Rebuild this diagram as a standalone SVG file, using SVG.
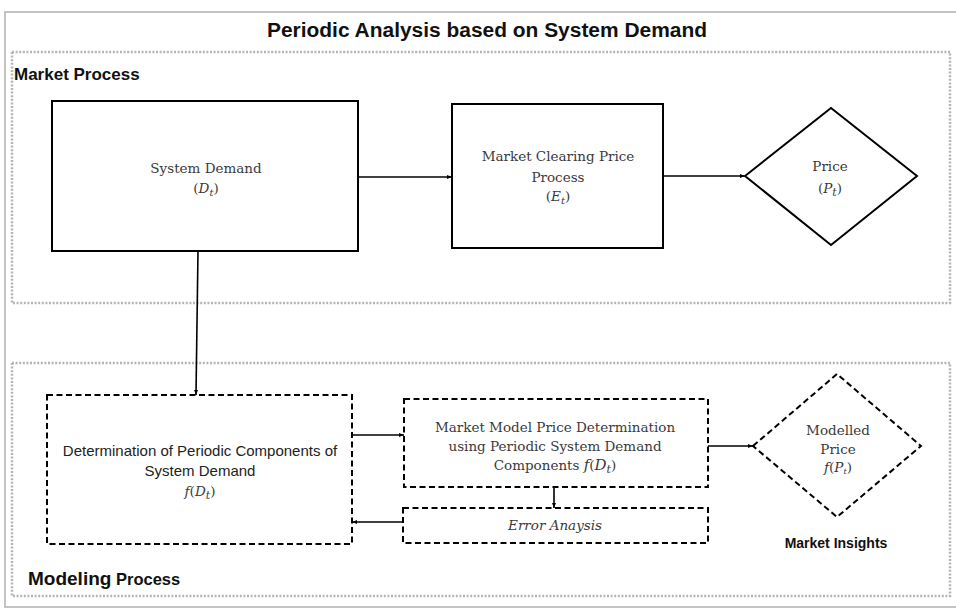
<svg xmlns="http://www.w3.org/2000/svg" width="956" height="609" viewBox="0 0 956 609">
  <defs>
    <marker id="arrow" viewBox="0 0 10 10" refX="10" refY="5" markerWidth="5" markerHeight="5" orient="auto" markerUnits="userSpaceOnUse">
      <path d="M0,1 L10,5 L0,9 z" fill="#000"/>
    </marker>
    <style>
      .frame { fill: none; stroke: #c4c4c4; stroke-width: 2; }
      .region { fill: none; stroke: #b5b5b5; stroke-width: 2.5; stroke-dasharray: 2 1.6; }
      .solid { fill: #fff; stroke: #000; stroke-width: 2; }
      .dashed { fill: #fff; stroke: #000; stroke-width: 2; stroke-dasharray: 6 3.5; }
      .conn { fill: none; stroke: #000; stroke-width: 1.6; marker-end: url(#arrow); }
      .head { font-family: "Liberation Sans", Arial, sans-serif; font-weight: bold; fill: #111; }
      .serif { font-family: "DejaVu Serif", "Liberation Serif", serif; font-size: 13.5px; fill: #3a3a3a; text-anchor: middle; }
      .sans { font-family: "Liberation Sans", Arial, sans-serif; font-size: 15px; fill: #222; text-anchor: middle; }
      .math { font-family: "DejaVu Serif", "Liberation Serif", serif; font-style: italic; }
    </style>
  </defs>

  <!-- outer frame and title -->
  <rect class="frame" x="5" y="12" width="960" height="595"/>
  <text class="head" x="487" y="37" font-size="20" text-anchor="middle" textLength="440" lengthAdjust="spacingAndGlyphs">Periodic Analysis based on System Demand</text>

  <!-- process regions -->
  <g id="market-process">
    <rect class="region" x="12" y="52" width="938" height="251"/>
    <text class="head" x="14" y="80" font-size="17">Market Process</text>
  </g>
  <g id="modeling-process">
    <rect class="region" x="12" y="363" width="938" height="233"/>
    <text class="head" x="28" y="585"><tspan font-size="19">Modeling</tspan><tspan font-size="16.5"> Process</tspan></text>
  </g>

  <!-- market nodes -->
  <g id="system-demand">
    <rect class="solid" x="52" y="101" width="306" height="150"/>
    <text class="serif" x="206" y="173" font-size="14">System Demand</text>
    <text class="serif" x="206" y="193" font-size="14">(<tspan class="math">D</tspan><tspan class="math" font-size="10" dy="3">t</tspan><tspan dy="-3">)</tspan></text>
  </g>
  <g id="market-clearing">
    <rect class="solid" x="452" y="104" width="211" height="144"/>
    <text class="serif" x="558" y="161" font-size="14">Market Clearing Price</text>
    <text class="serif" x="558" y="182" font-size="14">Process</text>
    <text class="serif" x="558" y="201" font-size="14">(<tspan class="math">E</tspan><tspan class="math" font-size="10" dy="3">t</tspan><tspan dy="-3">)</tspan></text>
  </g>
  <g id="price">
    <polygon class="solid" points="745,176 831,108 917,176 831,245"/>
    <text class="serif" x="830" y="171" font-size="14">Price</text>
    <text class="serif" x="830" y="193" font-size="15">(<tspan class="math">P</tspan><tspan class="math" font-size="11" dy="3">t</tspan><tspan dy="-3">)</tspan></text>
  </g>

  <!-- modeling nodes -->
  <g id="periodic-components">
    <rect class="dashed" x="47" y="395" width="305" height="149"/>
    <text class="sans" x="200" y="456">Determination of Periodic Components of</text>
    <text class="sans" x="200" y="476">System Demand</text>
    <text class="serif" x="200" y="496" font-size="15"><tspan class="math">f</tspan>(<tspan class="math">D</tspan><tspan class="math" font-size="11" dy="3">t</tspan><tspan dy="-3">)</tspan></text>
  </g>
  <g id="model-price">
    <rect class="dashed" x="404" y="399" width="304" height="88"/>
    <text class="serif" x="555" y="432">Market Model Price Determination</text>
    <text class="serif" x="555" y="451">using Periodic System Demand</text>
    <text class="serif" x="555" y="470">Components <tspan class="math" font-size="15">f</tspan>(<tspan class="math" font-size="15">D</tspan><tspan class="math" font-size="11" dy="3">t</tspan><tspan dy="-3">)</tspan></text>
  </g>
  <g id="error-analysis">
    <rect class="dashed" x="403" y="508" width="305" height="35"/>
    <text class="serif" x="555" y="530" font-size="14" font-style="italic" fill="#555">Error Anaysis</text>
  </g>
  <g id="modelled-price">
    <polygon class="dashed" points="753,446 837,374 921,446 837,517"/>
    <text class="serif" x="838" y="435">Modelled</text>
    <text class="serif" x="838" y="454">Price</text>
    <text class="serif" x="838" y="472" font-size="11.5"><tspan class="math">f</tspan>(<tspan class="math">P</tspan><tspan class="math" font-size="8" dy="2">t</tspan><tspan dy="-2">)</tspan></text>
  </g>
  <g id="market-insights">
    <text class="head" x="836" y="548" font-size="14" text-anchor="middle">Market Insights</text>
  </g>

  <!-- connectors -->
  <g id="connectors">
    <line class="conn" x1="358" y1="177" x2="452" y2="177"/>
    <line class="conn" x1="663" y1="176" x2="745" y2="176"/>
    <line class="conn" x1="198" y1="251" x2="196" y2="395"/>
    <line class="conn" x1="352" y1="435" x2="404" y2="435"/>
    <line class="conn" x1="708" y1="446" x2="753" y2="446"/>
    <line class="conn" x1="554" y1="487" x2="554" y2="508"/>
    <line class="conn" x1="403" y1="522" x2="352" y2="522"/>
  </g>
</svg>
